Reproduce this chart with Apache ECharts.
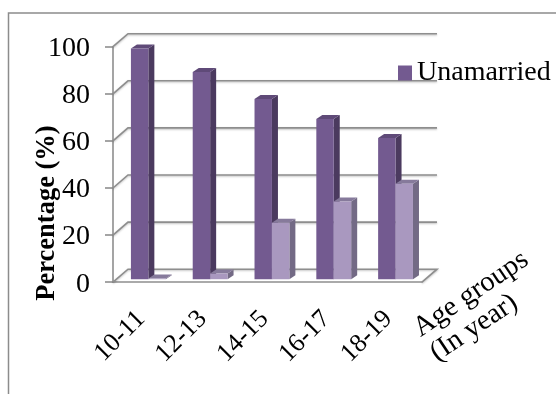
<!DOCTYPE html>
<html>
<head>
<meta charset="utf-8">
<style>
  html, body { margin: 0; padding: 0; background: #fff; }
  #chart { width: 556px; height: 394px; }
</style>
<script src="https://cdn.jsdelivr.net/npm/echarts@6/dist/echarts.min.js"></script>
</head>
<body>
<div id="chart"></div>
<script>
const categories = ["10-11", "12-13", "14-15", "16-17", "18-19"];
const unmarried = [98, 88, 76.5, 68, 60];
const married = [0.3, 2.4, 24, 33, 40.5];
const yTicks = [0, 20, 40, 60, 80, 100];

const FONT = '"Liberation Serif", "Times New Roman", serif';
const GRID_COLOR = "#8e8e8e";
const WALL_DX = 15;
const WALL_DY = 13;
const DEPTH_DX = 6;
const DEPTH_DY = 4;
const BASE_LIFT = 3;

// back wall and floor lines of the fake 3d box
const renderWall = (params, api) => {
  const grid = params.coordSys;
  const y = api.coord([0, api.value(1)])[1];
  const points = [
    [grid.x, y],
    [grid.x + WALL_DX, y - WALL_DY],
    [grid.x + grid.width + WALL_DX, y - WALL_DY],
  ];
  if (api.value(1) === 0) {
    points.push([grid.x + grid.width, y]);
  }
  return {
    type: "polyline",
    shape: { points },
    style: {
      stroke: GRID_COLOR,
      fill: "none",
      lineWidth: 1.6,
      shadowBlur: 2,
      shadowColor: "rgba(0,0,0,0.25)",
      shadowOffsetY: 1,
    },
  };
};

const makeBarRenderer = (offset, front, side, top) => (params, api) => {
  const band = api.size([1, 0])[0];
  const center = api.coord([api.value(0), 0])[0];
  const x0 = center + band * offset;
  const x1 = x0 + band * 0.282;
  const yBase = api.coord([api.value(0), 0])[1] - BASE_LIFT;
  const yTop = api.coord([api.value(0), api.value(1)])[1] - BASE_LIFT;
  return {
    type: "group",
    children: [
      {
        type: "polygon",
        shape: { points: [[x1, yBase], [x1 + DEPTH_DX, yBase - DEPTH_DY], [x1 + DEPTH_DX, yTop - DEPTH_DY], [x1, yTop]] },
        style: { fill: side },
      },
      {
        type: "polygon",
        shape: { points: [[x0, yTop], [x0 + DEPTH_DX, yTop - DEPTH_DY], [x1 + DEPTH_DX, yTop - DEPTH_DY], [x1, yTop]] },
        style: { fill: top },
      },
      {
        type: "rect",
        shape: { x: x0, y: yTop, width: x1 - x0, height: yBase - yTop },
        style: { fill: front },
      },
    ],
  };
};

const slantedText = (text, x, y) => ({
  type: "text",
  x,
  y,
  rotation: (34 * Math.PI) / 180,
  style: {
    text,
    font: "28.5px " + FONT,
    fill: "#000",
    align: "center",
    verticalAlign: "middle",
  },
});

const buildOption = () => ({
  animation: false,
  backgroundColor: "#fff",
  textStyle: { fontFamily: FONT, color: "#000" },
  graphic: [
    {
      type: "rect",
      shape: { x: 8.5, y: 13, width: 560, height: 400 },
      style: { fill: "none", stroke: "#8c8c8c", lineWidth: 1.5 },
      silent: true,
    },
    {
      type: "text",
      x: 47,
      y: 213,
      rotation: Math.PI / 2,
      style: {
        text: "Percentage (%)",
        font: "bold 26.5px " + FONT,
        fill: "#000",
        align: "center",
        verticalAlign: "middle",
      },
    },
    slantedText("Age groups", 471, 294),
    slantedText("(In year)", 474, 328),
  ],
  grid: { left: 113, top: 46.7, width: 309, height: 235.5 },
  legend: {
    left: 393,
    top: 54,
    data: ["Unamarried"],
    icon: "rect",
    itemWidth: 14,
    itemHeight: 15,
    itemGap: 0,
    selectedMode: false,
    textStyle: { fontFamily: FONT, fontSize: 28, color: "#000" },
  },
  xAxis: {
    type: "category",
    data: categories,
    axisLine: { lineStyle: { color: GRID_COLOR, width: 1.6 } },
    axisTick: { length: 8, lineStyle: { color: GRID_COLOR, width: 1.6 } },
    axisLabel: { rotate: 45, fontFamily: FONT, fontSize: 26, color: "#000", margin: 30, padding: [0, 4, 0, 0], interval: 0 },
    splitLine: { show: false },
  },
  yAxis: {
    type: "value",
    min: 0,
    max: 100,
    interval: 20,
    axisLine: { show: true, lineStyle: { color: GRID_COLOR, width: 1.6 } },
    axisTick: { show: true, length: 8, lineStyle: { color: GRID_COLOR, width: 1.6 } },
    axisLabel: { fontFamily: FONT, fontSize: 28, color: "#000", margin: 23, verticalAlign: "top", lineHeight: 4 },
    splitLine: { show: false },
  },
  series: [
    {
      type: "custom",
      name: "wall",
      silent: true,
      clip: false,
      renderItem: renderWall,
      data: yTicks.map((v) => [0, v]),
      z: 1,
    },
    {
      type: "custom",
      name: "Unamarried",
      clip: false,
      itemStyle: { color: "#735a90" },
      renderItem: makeBarRenderer(-0.21, "#735a90", "#4b3a5f", "#5f4a78"),
      data: unmarried.map((v, i) => [i, v]),
      z: 2,
    },
    {
      type: "custom",
      name: "Married",
      clip: false,
      itemStyle: { color: "#a998bf" },
      renderItem: makeBarRenderer(0.072, "#a998bf", "#736a85", "#867a9b"),
      data: married.map((v, i) => [i, v]),
      z: 3,
    },
  ],
});

const chart = echarts.init(document.getElementById("chart"), null, { renderer: "canvas" });
chart.setOption(buildOption());
</script>
</body>
</html>
